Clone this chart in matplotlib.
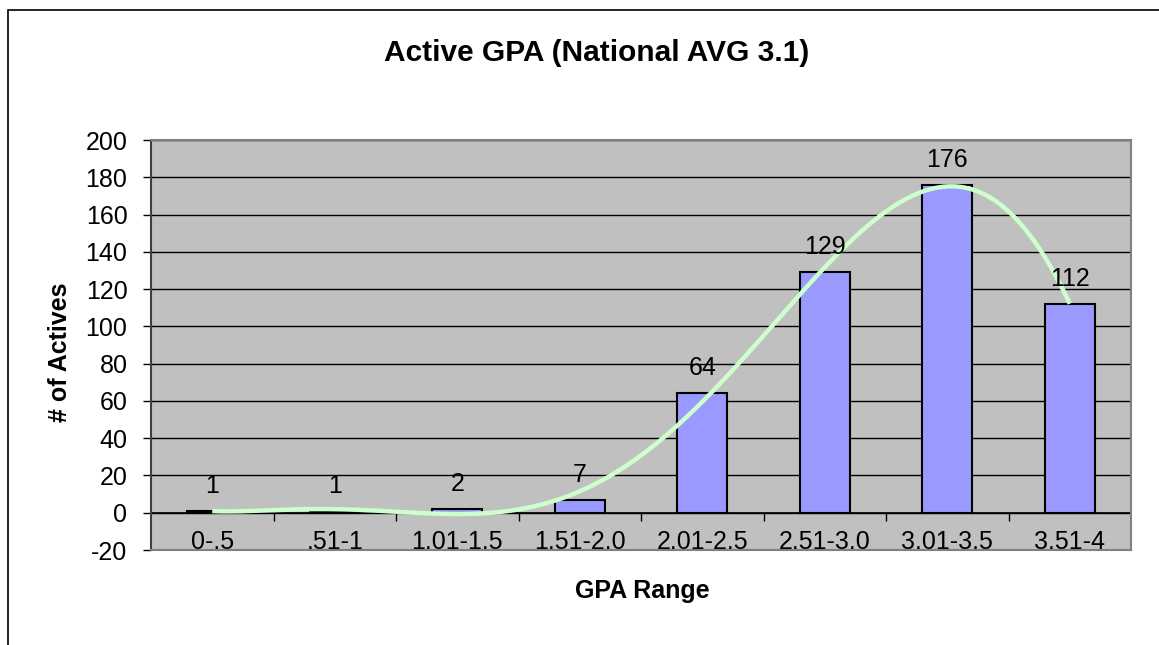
import numpy as np
import matplotlib.pyplot as plt
from matplotlib.patches import Rectangle

# datos
categorias = ['0-.5', '.51-1', '1.01-1.5', '1.51-2.0', '2.01-2.5', '2.51-3.0', '3.01-3.5', '3.51-4']
activos = [1, 1, 2, 7, 64, 129, 176, 112]
titulo = 'Active GPA (National AVG 3.1)'

plt.rcParams['font.family'] = ['Liberation Sans', 'DejaVu Sans']
plt.rcParams['axes.unicode_minus'] = False

fig = plt.figure(figsize=(11.59, 6.45), dpi=100)
W, H = 1159, 645
ax = fig.add_axes([151 / W, 1 - 550 / H, (1131 - 151) / W, (550 - 140) / H])

# marco exterior del grafico
fig.patches.append(Rectangle((8 / W, -0.1), 1.2, 1 - 10 / H + 0.1, transform=fig.transFigure,
                             fill=False, edgecolor='black', linewidth=1.2))

x = np.arange(len(categorias))
ax.set_facecolor('#C0C0C0')
ax.set_xlim(-0.5, len(categorias) - 0.5)
ax.set_ylim(-20, 200)
ax.set_yticks(np.arange(-20, 201, 20))
ax.yaxis.grid(True, color='black', linewidth=1)
ax.set_axisbelow(True)

barras = ax.bar(x, activos, width=0.41, color='#9999FF', edgecolor='black', linewidth=1.5, zorder=3)

# linea de tendencia polinomica
coef = np.polyfit(x, activos, 6)
xs = np.linspace(x[0], x[-1], 400)
ax.plot(xs, np.polyval(coef, xs), color='#CCFFCC', linewidth=3.2, zorder=4, solid_capstyle='butt')

for xi, v in zip(x, activos):
    ax.annotate(str(v), (xi, v), xytext=(0, 13), textcoords='offset points',
                ha='center', va='baseline', fontsize=18, zorder=5)

# etiquetas de categoria dentro del area
ax.set_xticks(x)
ax.set_xticklabels(categorias, fontsize=18)
ax.tick_params(axis='x', length=0, pad=-14.5)
ax.tick_params(axis='y', labelsize=18, length=6, width=1, pad=11)

# eje x en y=0 con marcas entre categorias
eje0 = ax.secondary_xaxis(20 / 220)
eje0.set_xticks(np.arange(0.5, len(categorias) - 1, 1.0))
eje0.set_xticklabels([])
eje0.tick_params(axis='x', length=6, width=1, direction='out', color='black')
eje0.spines['bottom'].set_color('black')
eje0.spines['bottom'].set_linewidth(1.2)

for lado in ['top', 'right', 'bottom']:
    ax.spines[lado].set_color('#808080')
    ax.spines[lado].set_linewidth(1.5)
ax.spines['left'].set_color('#404040')
ax.spines['left'].set_linewidth(1.5)

fig.text(597 / W, 1 - 53 / H, titulo, ha='center', va='center', fontsize=21.5, fontweight='bold')
fig.text(60 / W, 1 - 352 / H, '# of Actives', ha='center', va='center', rotation=90,
         fontsize=18, fontweight='bold')
fig.text(642 / W, 1 - 591 / H, 'GPA Range', ha='center', va='center', fontsize=18, fontweight='bold')

fig.savefig('out.png', dpi=100)
